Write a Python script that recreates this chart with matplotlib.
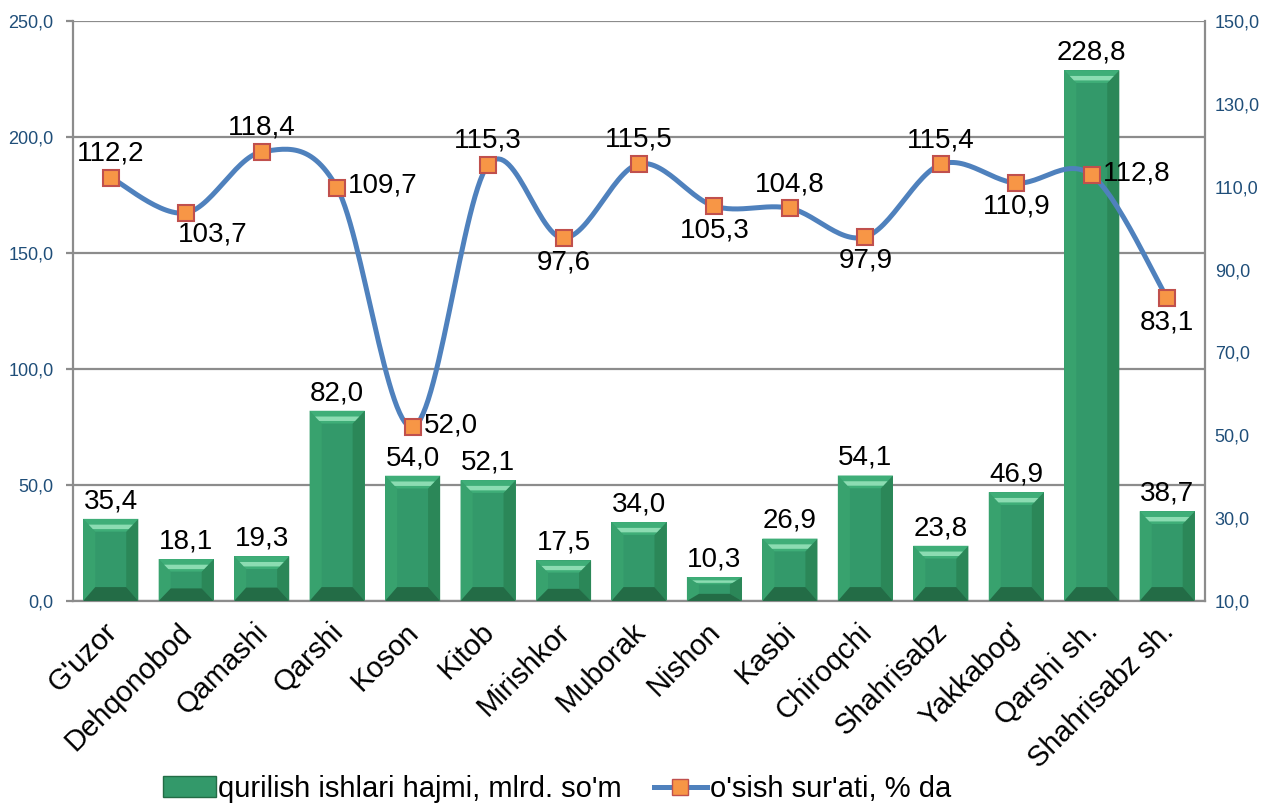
import matplotlib.pyplot as plt
import matplotlib.transforms as mtransforms
import numpy as np
from matplotlib.patches import Polygon, Rectangle
from matplotlib.lines import Line2D

plt.rcParams['font.family'] = ['Liberation Sans', 'DejaVu Sans']

categories = ["G'uzor", "Dehqonobod", "Qamashi", "Qarshi", "Koson", "Kitob",
              "Mirishkor", "Muborak", "Nishon", "Kasbi", "Chiroqchi",
              "Shahrisabz", "Yakkabog'", "Qarshi sh.", "Shahrisabz sh."]
volume = [35.4, 18.1, 19.3, 82.0, 54.0, 52.1, 17.5, 34.0, 10.3, 26.9,
          54.1, 23.8, 46.9, 228.8, 38.7]
growth = [112.2, 103.7, 118.4, 109.7, 52.0, 115.3, 97.6, 115.5, 105.3,
          104.8, 97.9, 115.4, 110.9, 112.8, 83.1]
# where each growth label sits relative to its marker
growth_pos = ['up', 'downr', 'up', 'right', 'right', 'up', 'down', 'up',
              'down', 'up', 'down', 'up', 'down', 'right', 'down']

volume_label = "qurilish ishlari hajmi, mlrd. so'm"
growth_label = "o'sish sur'ati, % da"

face = '#33996a'
top_c = '#3fae78'
hi_c = '#8cdcb2'
bot_c = '#236c46'
lside_c = '#38a26e'
rside_c = '#2b8758'
line_c = '#4f81bd'
tick_c = '#1f4e79'
grid_c = '#8c8c8c'


def fmt(v):
    return f'{v:.1f}'.replace('.', ',')


fig = plt.figure(figsize=(12.7, 8.05), dpi=100)
ax = fig.add_axes([0.0575, 0.2534, 0.8913, 0.7205])
ax2 = ax.twinx()

x = np.arange(len(categories))
w = 0.73
ax.set_xlim(-0.5, len(categories) - 0.5)
ax.set_ylim(0, 250)
ax2.set_ylim(10, 150)

# bevelled bars
for xi, h in zip(x, volume):
    l, r = xi - w / 2, xi + w / 2
    bt = min(5.5, h * 0.3)
    bb = min(6.0, h * 0.3)
    bx = 0.16
    ax.add_patch(Rectangle((l, 0), w, h, facecolor=face, edgecolor='none', zorder=2))
    ax.add_patch(Polygon([(l, 0), (l, h), (l + bx, h - bt), (l + bx, bb)],
                         closed=True, facecolor=lside_c, edgecolor='none', zorder=3))
    ax.add_patch(Polygon([(r, 0), (r, h), (r - bx, h - bt), (r - bx, bb)],
                         closed=True, facecolor=rside_c, edgecolor='none', zorder=3))
    ax.add_patch(Polygon([(l, h), (r, h), (r - bx, h - bt), (l + bx, h - bt)],
                         closed=True, facecolor=top_c, edgecolor='none', zorder=3))
    ax.add_patch(Polygon([(l + bx * 0.45, h - bt * 0.45), (r - bx * 0.45, h - bt * 0.45),
                          (r - bx * 0.8, h - bt * 0.8), (l + bx * 0.8, h - bt * 0.8)],
                         closed=True, facecolor=hi_c, edgecolor='none', zorder=3))
    ax.add_patch(Polygon([(l, 0), (r, 0), (r - bx, bb), (l + bx, bb)],
                         closed=True, facecolor=bot_c, edgecolor='none', zorder=3))
    ax.text(xi, h + 2, fmt(h), ha='center', va='bottom', fontsize=20, zorder=6)

ax.set_yticks(np.arange(0, 251, 50))
ax.set_yticklabels([fmt(v) for v in np.arange(0, 251, 50)], color=tick_c, fontsize=13)
ax.yaxis.grid(True, color=grid_c, linewidth=1.6, zorder=0)
ax.set_axisbelow(True)
ax.tick_params(axis='y', length=5, width=1.6, color=grid_c, pad=9)
ax.tick_params(axis='x', length=0, pad=12)
ax.set_xticks(x)
ax.set_xticklabels(categories, rotation=45, ha='right', rotation_mode='anchor',
                   fontsize=21)
shift = mtransforms.ScaledTranslation(-0.08, 0, fig.dpi_scale_trans)
for lab in ax.get_xticklabels():
    lab.set_transform(lab.get_transform() + shift)
for s in ['left', 'bottom', 'right', 'top']:
    ax.spines[s].set_color(grid_c)
    ax.spines[s].set_linewidth(1.6)
ax.spines['top'].set_visible(False)

ax2.set_yticks(np.arange(10, 151, 20))
ax2.set_yticklabels([fmt(v) for v in np.arange(10, 151, 20)], color=tick_c, fontsize=13)
ax2.tick_params(axis='y', length=0, pad=7)
for s in ['left', 'bottom', 'right', 'top']:
    ax2.spines[s].set_visible(False)


# smoothed line (Catmull-Rom through the points)
def smooth(px, py, n=30):
    P = np.column_stack([np.asarray(px, float), np.asarray(py, float)])
    P = np.vstack([P[0], P, P[-1]])
    out = []
    t = np.linspace(0, 1, n)[:, None]
    for i in range(1, len(P) - 2):
        p0, p1, p2, p3 = P[i - 1], P[i], P[i + 1], P[i + 2]
        seg = 0.5 * ((2 * p1) + (-p0 + p2) * t + (2 * p0 - 5 * p1 + 4 * p2 - p3) * t ** 2
                     + (-p0 + 3 * p1 - 3 * p2 + p3) * t ** 3)
        out.append(seg)
    out = np.vstack(out)
    return out[:, 0], out[:, 1]


sx, sy = smooth(x, growth)
ax2.plot(sx, sy, color=line_c, linewidth=3.6, zorder=4, solid_capstyle='round')
ax2.plot(x, growth, linestyle='none', marker='s', markersize=12,
         markerfacecolor='#f79646', markeredgecolor='#c0504d', markeredgewidth=1.5,
         zorder=5)
ax2.set_zorder(ax.get_zorder() + 1)
ax2.patch.set_visible(False)

offsets = {'up': (0, 11, 'center', 'bottom'),
           'down': (0, -11, 'center', 'top'),
           'downr': (26, -9, 'center', 'top'),
           'right': (11, 2, 'left', 'center')}
for xi, g, p in zip(x, growth, growth_pos):
    dx, dy, ha, va = offsets[p]
    ax2.annotate(fmt(g), (xi, g), xytext=(dx, dy), textcoords='offset pixels',
                 ha=ha, va=va, fontsize=20, zorder=6)

handles = [Rectangle((0, 0), 1, 1, facecolor=face, edgecolor=bot_c),
           Line2D([], [], color=line_c, linewidth=3.6, marker='s', markersize=12,
                  markerfacecolor='#f79646', markeredgecolor='#c0504d')]
fig.legend(handles, [volume_label, growth_label], loc='center left',
           bbox_to_anchor=(163 / 1270, 0.02), ncol=2, frameon=False, fontsize=21,
           handlelength=1.8, handletextpad=0.1, columnspacing=1.1, borderpad=0,
           borderaxespad=0)

fig.savefig('out.png', dpi=100)
